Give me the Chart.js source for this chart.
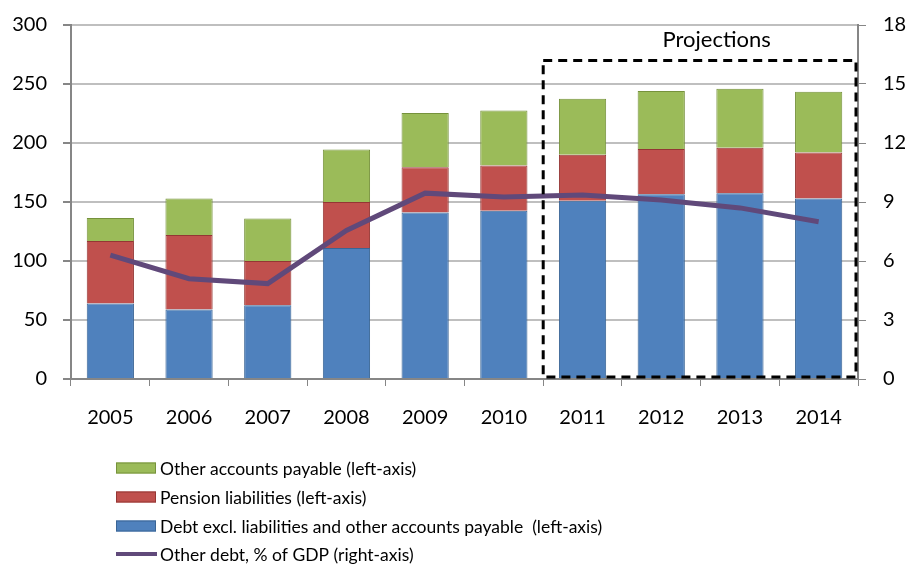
<!DOCTYPE html>
<html>
<head>
<meta charset="utf-8">
<script src="https://cdn.jsdelivr.net/npm/chart.js@4.4.1/dist/chart.umd.min.js"></script>
<style>
  html, body { margin: 0; padding: 0; background: #fff; }
  #wrap { width: 912px; height: 565px; }
</style>
</head>
<body>
<div id="wrap"><canvas id="chart" width="912" height="565"></canvas></div>
<script>
// data
const years = ['2005', '2006', '2007', '2008', '2009', '2010', '2011', '2012', '2013', '2014'];
const debtExcl = [64, 59, 62.5, 111, 141, 142.5, 151, 156.5, 157.5, 153];
const pension = [53, 63, 37.5, 39, 38.5, 38.5, 39, 38.5, 38.5, 39];
const otherPayable = [19.5, 31, 36, 44.5, 46, 46.5, 47.5, 49, 50, 51.5];
const otherDebtGdp = [6.3, 5.1, 4.85, 7.55, 9.45, 9.25, 9.35, 9.1, 8.7, 8.0];
const leftTicks = [0, 50, 100, 150, 200, 250, 300];
const rightTicks = [0, 3, 6, 9, 12, 15, 18];
const projStart = 6;      // first projected year index (2011)
const projTop = 270;      // top of projections box, left-axis units

const FONT = 'Lato, "Open Sans", sans-serif';
const axisGray = '#868686';

// projections box + custom legend
const extras = {
    id: 'extras',
    afterDatasetsDraw(chart) {
        const ctx = chart.ctx;
        const x = chart.scales.x, y = chart.scales.y;
        const half = (x.getPixelForValue(1) - x.getPixelForValue(0)) / 2;
        const left = x.getPixelForValue(projStart) - half;
        const right = chart.chartArea.right - 2;
        const top = y.getPixelForValue(projTop);
        const bottom = y.getPixelForValue(0) - 2;
        ctx.save();
        ctx.strokeStyle = '#000';
        ctx.lineWidth = 3;
        ctx.setLineDash([9, 6]);
        ctx.strokeRect(left, top, right - left, bottom - top);
        ctx.setLineDash([]);
        ctx.fillStyle = '#000';
        ctx.font = '22px ' + FONT;
        ctx.textAlign = 'center';
        ctx.textBaseline = 'middle';
        ctx.fillText('Projections', (left + right) / 2 + 17, y.getPixelForValue(287));
        ctx.restore();
    },
    afterDraw(chart) {
        const ctx = chart.ctx;
        const order = [2, 1, 0, 3];
        const rows = [468, 497, 526, 554];
        ctx.save();
        ctx.font = '17.5px ' + FONT;
        ctx.textBaseline = 'middle';
        ctx.textAlign = 'left';
        order.forEach((di, i) => {
            const ds = chart.data.datasets[di];
            const cy = rows[i];
            if (ds.type === 'line') {
                ctx.strokeStyle = ds.borderColor;
                ctx.lineWidth = 4;
                ctx.beginPath();
                ctx.moveTo(116, cy);
                ctx.lineTo(157, cy);
                ctx.stroke();
            } else {
                ctx.fillStyle = ds.backgroundColor;
                ctx.fillRect(116, cy - 5.5, 40, 11);
                ctx.strokeStyle = ds.borderColor;
                ctx.lineWidth = 1;
                ctx.strokeRect(116.5, cy - 5, 39, 10);
            }
            ctx.fillStyle = '#000';
            ctx.fillText(ds.label, 160, cy + 1);
        });
        ctx.restore();
    }
};

// keep the plot area fixed regardless of tick label size
function fixVertical(width) {
    return function (scale) {
        scale.width = width;
        scale.paddingTop = 0;
        scale.paddingBottom = 0;
    };
}

const config = {
    type: 'bar',
    data: {
        labels: years,
        datasets: [
            {
                label: 'Debt excl. liabilities and other accounts payable  (left-axis)',
                data: debtExcl,
                backgroundColor: '#4F81BD',
                borderColor: '#3A6595',
                borderWidth: 1,
                yAxisID: 'y',
                order: 2
            },
            {
                label: 'Pension liabilities (left-axis)',
                data: pension,
                backgroundColor: '#C0504D',
                borderColor: '#943634',
                borderWidth: 1,
                yAxisID: 'y',
                order: 2
            },
            {
                label: 'Other accounts payable (left-axis)',
                data: otherPayable,
                backgroundColor: '#9BBB59',
                borderColor: '#76923C',
                borderWidth: 1,
                yAxisID: 'y',
                order: 2
            },
            {
                type: 'line',
                label: 'Other debt, % of GDP (right-axis)',
                data: otherDebtGdp,
                borderColor: '#60497A',
                backgroundColor: '#60497A',
                borderWidth: 5,
                pointRadius: 0,
                tension: 0,
                yAxisID: 'y1',
                order: 1
            }
        ]
    },
    options: {
        responsive: false,
        animation: false,
        layout: { padding: { top: 25, left: 0, right: 0, bottom: 0 } },
        plugins: {
            legend: { display: false },
            tooltip: { enabled: false }
        },
        datasets: {
            bar: { barPercentage: 0.6, categoryPercentage: 1 }
        },
        scales: {
            x: {
                stacked: true,
                offset: true,
                grid: {
                    offset: true,
                    drawOnChartArea: false,
                    drawTicks: true,
                    tickLength: 7,
                    color: axisGray
                },
                border: { color: axisGray, width: 2 },
                ticks: { color: '#000', font: { family: FONT, size: 20 }, padding: 20 },
                afterFit(scale) { scale.height = 565 - 25 - 354; }
            },
            y: {
                stacked: true,
                position: 'left',
                min: 0,
                max: 300,
                afterBuildTicks(scale) { scale.ticks = leftTicks.map(v => ({ value: v })); },
                grid: {
                    color: ctx => ctx.tick && ctx.tick.value === 0 ? 'rgba(0,0,0,0)' : '#BFBFBF',
                    lineWidth: 2,
                    borderDash: [8, 6],
                    tickColor: axisGray,
                    tickLength: 8,
                    tickBorderDash: []
                },
                border: { color: axisGray, width: 2 },
                ticks: { color: '#000', font: { family: FONT, size: 20 }, padding: 16 },
                afterFit: fixVertical(71)
            },
            y1: {
                position: 'right',
                min: 0,
                max: 18,
                afterBuildTicks(scale) { scale.ticks = rightTicks.map(v => ({ value: v })); },
                grid: { drawOnChartArea: false, color: axisGray, tickLength: 8 },
                border: { color: axisGray, width: 2 },
                ticks: { color: '#000', font: { family: FONT, size: 20 }, padding: 17 },
                afterFit: fixVertical(912 - 858)
            }
        }
    },
    plugins: [extras]
};

new Chart(document.getElementById('chart').getContext('2d'), config);
</script>
</body>
</html>
